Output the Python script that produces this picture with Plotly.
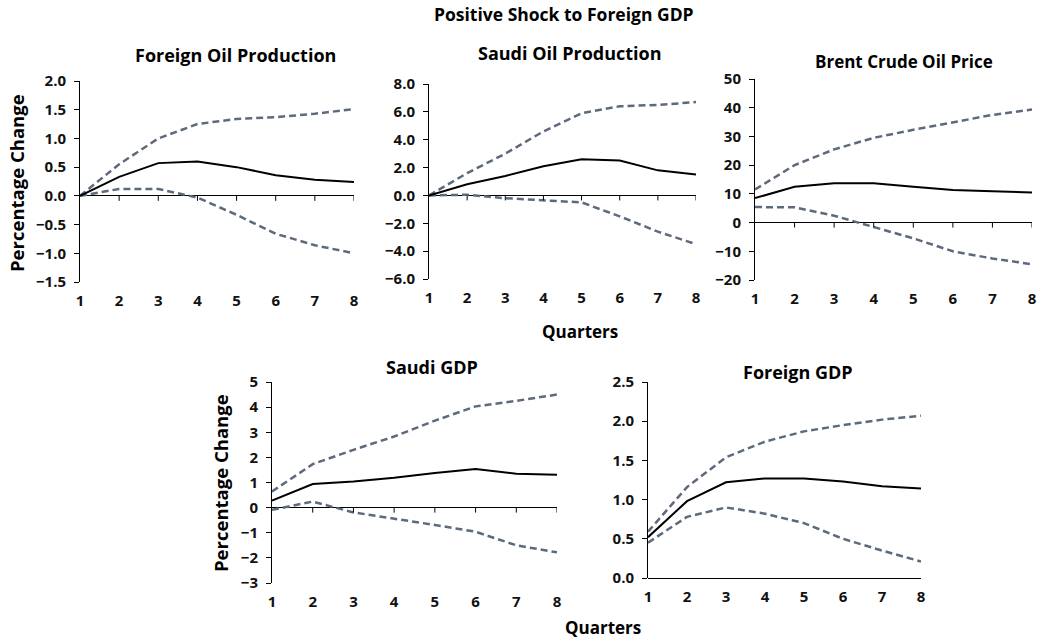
import plotly.graph_objects as go

# Quarters after the shock
quarters = [1, 2, 3, 4, 5, 6, 7, 8]

# Foreign oil production (% change): impulse response and confidence bands
foreign_oil_mid = [0.0, 0.33, 0.57, 0.60, 0.50, 0.36, 0.28, 0.24]
foreign_oil_hi = [0.0, 0.55, 1.00, 1.25, 1.34, 1.37, 1.43, 1.51]
foreign_oil_lo = [0.0, 0.12, 0.12, -0.03, -0.33, -0.66, -0.86, -1.00]

# Saudi oil production (% change)
saudi_oil_mid = [0.0, 0.8, 1.4, 2.1, 2.6, 2.5, 1.8, 1.5]
saudi_oil_hi = [0.0, 1.6, 3.0, 4.6, 5.9, 6.4, 6.5, 6.7]
saudi_oil_lo = [0.0, 0.05, -0.2, -0.35, -0.5, -1.5, -2.6, -3.5]

# Brent crude oil price (% change)
brent_mid = [8.5, 12.5, 13.7, 13.7, 12.5, 11.3, 10.9, 10.5]
brent_hi = [11.5, 20.0, 25.5, 29.5, 32.3, 34.8, 37.5, 39.4]
brent_lo = [5.4, 5.3, 2.4, -1.5, -5.5, -10.0, -12.5, -14.5]

# Saudi GDP (% change)
saudi_gdp_mid = [0.28, 0.94, 1.04, 1.19, 1.38, 1.54, 1.35, 1.31]
saudi_gdp_hi = [0.64, 1.73, 2.30, 2.83, 3.46, 4.03, 4.25, 4.50]
saudi_gdp_lo = [-0.09, 0.24, -0.19, -0.43, -0.69, -0.96, -1.50, -1.78]

# Foreign GDP (% change)
foreign_gdp_mid = [0.52, 0.98, 1.22, 1.27, 1.27, 1.23, 1.17, 1.14]
foreign_gdp_hi = [0.59, 1.16, 1.54, 1.74, 1.87, 1.95, 2.02, 2.07]
foreign_gdp_lo = [0.45, 0.78, 0.90, 0.82, 0.70, 0.50, 0.35, 0.21]

# Panel titles and y-axis tick values
titles = ["Foreign Oil Production", "Saudi Oil Production", "Brent Crude Oil Price",
          "Saudi GDP", "Foreign GDP"]
ticks_foreign_oil = [2.0, 1.5, 1.0, 0.5, 0.0, -0.5, -1.0, -1.5]
ticks_saudi_oil = [8.0, 6.0, 4.0, 2.0, 0.0, -2.0, -4.0, -6.0]
ticks_brent = [50, 40, 30, 20, 10, 0, -10, -20]
ticks_saudi_gdp = [5, 4, 3, 2, 1, 0, -1, -2, -3]
ticks_foreign_gdp = [2.5, 2.0, 1.5, 1.0, 0.5, 0.0]

W, H = 1038, 640
FONT = "Open Sans"
BAND = "#5d6a7e"
TICKFONT = dict(family=FONT, size=15, color="#111111", weight="bold")

# Panel geometry in pixels: (left, right, top, bottom), y range, tick format
panels = [
    dict(px=(80, 354, 81, 282), rng=(-1.5, 2.0), ticks=ticks_foreign_oil, fmt=".1f",
         data=(foreign_oil_mid, foreign_oil_hi, foreign_oil_lo), title_xy=(235, 55), tsize=18),
    dict(px=(429, 696, 84, 279), rng=(-6, 8), ticks=ticks_saudi_oil, fmt=".1f",
         data=(saudi_oil_mid, saudi_oil_hi, saudi_oil_lo), title_xy=(570, 53), tsize=18),
    dict(px=(755, 1032, 79, 280), rng=(-20, 50), ticks=ticks_brent, fmt="d",
         data=(brent_mid, brent_hi, brent_lo), title_xy=(904, 61), tsize=17),
    dict(px=(272, 557, 382, 583), rng=(-3, 5), ticks=ticks_saudi_gdp, fmt="d",
         data=(saudi_gdp_mid, saudi_gdp_hi, saudi_gdp_lo), title_xy=(432, 367), tsize=18),
    dict(px=(648, 921, 382, 578), rng=(0, 2.5), ticks=ticks_foreign_gdp, fmt=".1f",
         data=(foreign_gdp_mid, foreign_gdp_hi, foreign_gdp_lo), title_xy=(798, 372), tsize=18),
]

fig = go.Figure()
shapes = []
annotations = []
layout = {}

for i, p in enumerate(panels, start=1):
    l, r, t, b = p["px"]
    xa = "x" if i == 1 else f"x{i}"
    ya = "y" if i == 1 else f"y{i}"
    mid, hi, lo = p["data"]
    for ys in (hi, lo):
        fig.add_trace(go.Scatter(x=quarters, y=ys, mode="lines", xaxis=xa, yaxis=ya,
                                 line=dict(color=BAND, width=2.5, dash="7px,4px"),
                                 showlegend=False, hoverinfo="skip"))
    fig.add_trace(go.Scatter(x=quarters, y=mid, mode="lines", xaxis=xa, yaxis=ya,
                             line=dict(color="black", width=2), showlegend=False))

    layout[f"xaxis{'' if i == 1 else i}"] = dict(
        domain=[l / W, r / W], range=[1, 8], anchor=ya, automargin=False,
        tickmode="array", tickvals=quarters, ticks="", showline=False,
        showgrid=False, zeroline=False, ticklabelstandoff=8, tickfont=TICKFONT)
    layout[f"yaxis{'' if i == 1 else i}"] = dict(
        domain=[1 - b / H, 1 - t / H], range=list(p["rng"]), anchor=xa, automargin=False,
        tickmode="array", tickvals=p["ticks"], tickformat=p["fmt"],
        ticks="outside", ticklen=5, tickcolor="black", tickwidth=1,
        ticklabelstandoff=5,
        showline=True, linecolor="black", linewidth=1,
        showgrid=False, zeroline=True, zerolinecolor="black", zerolinewidth=1,
        tickfont=TICKFONT)

    # small downward tick marks along the zero line
    for q in quarters[1:]:
        shapes.append(dict(type="line", xref=xa, yref=ya, ysizemode="pixel", yanchor=0,
                           x0=q, x1=q, y0=0, y1=-5, line=dict(color="black", width=1)))

    tx, ty = p["title_xy"]
    annotations.append(dict(text=f"<b>{titles[i - 1]}</b>", x=tx / W, y=1 - ty / H,
                            xref="paper", yref="paper", showarrow=False,
                            xanchor="center", yanchor="middle",
                            font=dict(family=FONT, size=p["tsize"], color="black")))

# figure title, axis titles
extra = [
    ("<b>Positive Shock to Foreign GDP</b>", 564, 14, 17.5, 0),
    ("<b>Percentage Change</b>", 17, 183, 18.5, -90),
    ("<b>Percentage Change</b>", 220, 483, 18.5, -90),
    ("<b>Quarters</b>", 580, 331, 17, 0),
    ("<b>Quarters</b>", 603, 627, 17, 0),
]
for txt, x, y, size, ang in extra:
    annotations.append(dict(text=txt, x=x / W, y=1 - y / H, xref="paper", yref="paper",
                            showarrow=False, xanchor="center", yanchor="middle",
                            textangle=ang, font=dict(family=FONT, size=size, color="black")))

fig.update_layout(width=W, height=H,
                  margin=dict(l=0, r=0, t=0, b=0, pad=0, autoexpand=False),
                  paper_bgcolor="white", plot_bgcolor="white",
                  shapes=shapes, annotations=annotations, **layout)

fig.write_html("out.html")
